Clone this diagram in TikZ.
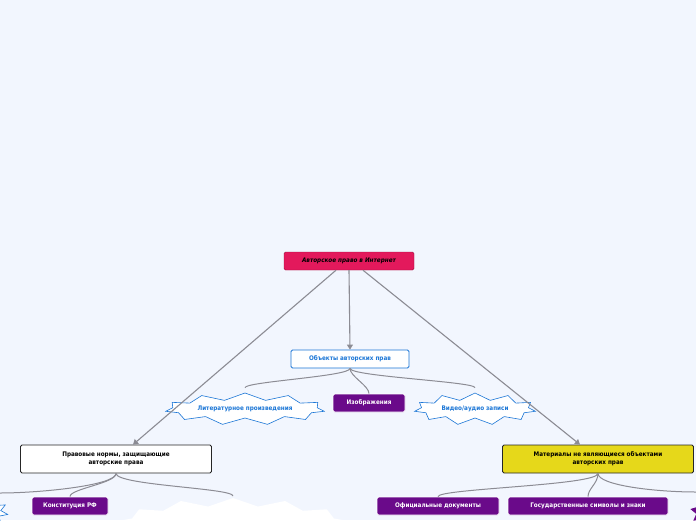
\documentclass[tikz,border=0pt]{standalone}
\usepackage{fontspec}
\setmainfont{DejaVu Sans Condensed}
\usetikzlibrary{shapes.symbols,arrows.meta}
\definecolor{bg}{HTML}{F2F6FE}
\definecolor{crim}{HTML}{E3195C}
\definecolor{bl}{HTML}{1B76D6}
\definecolor{pur}{HTML}{6A0A8A}
\definecolor{yel}{HTML}{E6D81A}
\definecolor{ln}{HTML}{8C8C94}
\begin{document}
\begin{tikzpicture}[x=1pt,y=-1pt,
  every node/.style={font=\bfseries\fontsize{6.3}{8}\selectfont,inner sep=2pt,align=center},
  box/.style={rounded corners=1.5pt,minimum height=18pt,draw},
  pbox/.style={box,fill=pur,draw=white,text=white,line width=0.8pt},
  star/.style={starburst,starburst points=11,starburst point height=7pt,random starburst=0,draw=bl,fill=white,text=bl,line width=0.6pt},
  conn/.style={draw=ln,line width=1.1pt,-{Triangle[width=6pt,length=5pt]}},
  br/.style={draw=ln,line width=1pt}]
\fill[bg] (0,0) rectangle (696,520);
\useasboundingbox (0,0) rectangle (696,520);
\node[starburst,starburst points=14,starburst point height=8pt,random starburst=0,fill=white,minimum width=240pt,minimum height=60pt] (ws) at (233,528) {};
\node[star,minimum width=60pt,minimum height=34pt] (lf) at (-22,512) {РФ};
\node[starburst,starburst points=9,starburst point height=6pt,random starburst=0,fill=pur,minimum width=50pt,minimum height=34pt] (rp) at (715,512) {};

\node[box,fill=crim,draw=crim!70!black,minimum width=130pt,font=\bfseries\itshape\fontsize{6.3}{8}\selectfont] (root) at (349,261) {Авторское право в Интернет};
\node[box,fill=white,draw=bl,text=bl,minimum width=118pt,line width=0.8pt] (obj) at (350,359) {Объекты авторских прав};
\node[star,minimum width=160pt,minimum height=32pt] (lit) at (245,409) {Литературное произведения};
\node[pbox,minimum width=72pt] (img) at (369,403) {Изображения};
\node[star,minimum width=122pt,minimum height=32pt] (vid) at (475,409) {Видео/аудио записи};
\node[box,fill=white,draw=black!85,minimum width=191pt,minimum height=28pt,line width=0.8pt] (law) at (116,459) {Правовые нормы, защищающие\\авторские права};
\node[box,fill=yel,draw=black!85,minimum width=191pt,minimum height=28pt,line width=0.8pt] (mat) at (598,459) {Материалы не являющиеся объектами\\авторских прав};
\node[pbox,minimum width=76pt] (kon) at (70,506) {Конституция РФ};
\node[pbox,minimum width=122pt] (off) at (438,506) {Официальные документы};
\node[pbox,minimum width=160pt] (gos) at (588,506) {Государственные символы и знаки};

\draw[conn] ([xshift=-13pt]root.south) -- ([xshift=17pt]law.north);
\draw[conn] (root.south) -- (obj.north);
\draw[conn] ([xshift=14pt]root.south) -- ([xshift=-18pt]mat.north);

\draw[br] (obj.south) .. controls +(0,8) and +(0,-6) .. ([yshift=5pt]lit.north);
\draw[br] (obj.south) .. controls +(0,8) and +(0,-8) .. (img.north);
\draw[br] (obj.south) .. controls +(0,8) and +(0,-6) .. ([yshift=5pt]vid.north);
\draw[br] (law.south) .. controls +(0,12) and +(40,0) .. (0,493);
\draw[br] (law.south) .. controls +(0,10) and +(0,-8) .. (kon.north);
\draw[br] (law.south) .. controls +(0,12) and +(0,-8) .. (233,496);
\draw[br] (mat.south) .. controls +(0,12) and +(0,-8) .. (off.north);
\draw[br] (mat.south) .. controls +(0,10) and +(0,-8) .. (gos.north);
\draw[br] (mat.south) .. controls +(0,12) and +(-40,0) .. (696,492);
\end{tikzpicture}
\end{document}
